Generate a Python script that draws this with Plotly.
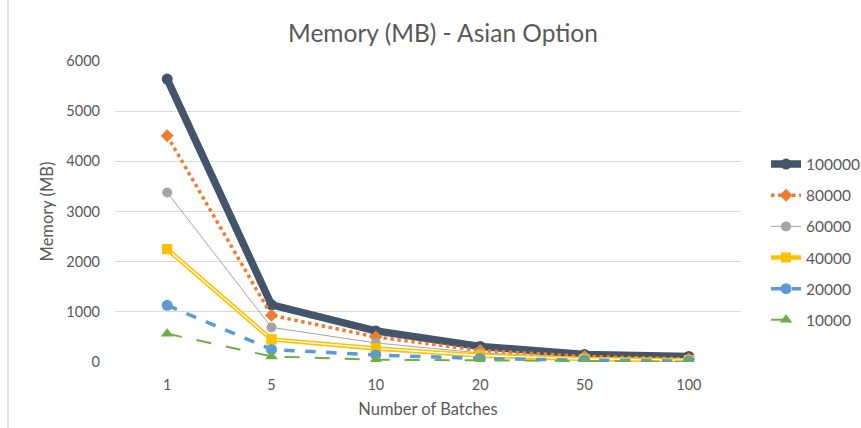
import plotly.graph_objects as go

# Number of batches (categorical x axis)
batches = ["1", "5", "10", "20", "50", "100"]

# Memory usage (MB) per number of paths
mem_100000 = [5640, 1140, 620, 310, 150, 110]
mem_80000 = [4510, 930, 500, 230, 110, 60]
mem_60000 = [3380, 690, 380, 180, 90, 50]
mem_40000 = [2250, 450, 270, 130, 60, 35]
mem_20000 = [1130, 250, 140, 70, 35, 20]
mem_10000 = [565, 110, 45, 30, 15, 8]

y_ticks = [0, 1000, 2000, 3000, 4000, 5000, 6000]

FONT = "Lato"
TXT = "#595959"

fig = go.Figure()

fig.add_trace(go.Scatter(
    x=batches, y=mem_100000, name="100000", mode="lines+markers",
    line=dict(color="#44546A", width=7.5),
    marker=dict(symbol="circle", size=11, color="#44546A"),
    legendgroup="a",
))
fig.add_trace(go.Scatter(
    x=batches, y=mem_80000, name="80000", mode="lines+markers",
    line=dict(color="#ED7D31", width=3.5, dash="dot"),
    marker=dict(symbol="diamond", size=10, color="#ED7D31"),
    legendgroup="b",
))
fig.add_trace(go.Scatter(
    x=batches, y=mem_60000, name="60000", mode="lines+markers",
    line=dict(color="#A5A5A5", width=1),
    marker=dict(symbol="circle", size=10, color="#A5A5A5"),
    legendgroup="c",
))
# double line: yellow outer stroke with a thin white core
fig.add_trace(go.Scatter(
    x=batches, y=mem_40000, name="40000", mode="lines+markers",
    line=dict(color="#FFC000", width=4.5),
    marker=dict(symbol="square", size=10, color="#FFC000"),
    legendgroup="d",
))
fig.add_trace(go.Scatter(
    x=batches, y=mem_40000, mode="lines", showlegend=False,
    line=dict(color="white", width=1.3), hoverinfo="skip", legendgroup="d",
))
fig.add_trace(go.Scatter(
    x=batches, y=mem_40000, mode="markers", showlegend=False,
    marker=dict(symbol="square", size=10, color="#FFC000"), legendgroup="d",
))
fig.add_trace(go.Scatter(
    x=batches, y=mem_20000, name="20000", mode="lines+markers",
    line=dict(color="#5B9BD5", width=3.5, dash="dash"),
    marker=dict(symbol="circle", size=11, color="#5B9BD5"),
    legendgroup="e",
))
fig.add_trace(go.Scatter(
    x=batches, y=mem_10000, name="10000", mode="lines+markers",
    line=dict(color="#70AD47", width=2, dash="longdash"),
    marker=dict(symbol="triangle-up", size=11, color="#70AD47"),
    legendgroup="f",
))

fig.update_layout(
    width=861, height=428,
    margin=dict(l=115, r=120, t=61, b=66, autoexpand=False),
    paper_bgcolor="white", plot_bgcolor="white",
    font=dict(family=FONT, color=TXT, size=14),
    title=dict(text="Memory (MB) - Asian Option", x=443 / 861, xanchor="center",
               y=1 - 33 / 428, yanchor="middle",
               font=dict(size=24.5, color=TXT, family=FONT)),
    xaxis=dict(
        type="category", range=[-0.5, 5.5], showgrid=False, zeroline=False,
        showline=False, ticks="", tickfont=dict(size=14.5, color=TXT),
        ticklabelstandoff=12,
        title=dict(text="Number of Batches", font=dict(size=16.5, color=TXT), standoff=11),
    ),
    yaxis=dict(
        range=[0, 6000], tickvals=y_ticks, showgrid=True, gridcolor="#D9D9D9",
        gridwidth=1, zeroline=False, showline=False, ticks="",
        tickfont=dict(size=14.5, color=TXT), ticklabelstandoff=14,
        title=dict(text="Memory (MB)", font=dict(size=16.5, color=TXT), standoff=8),
    ),
    legend=dict(
        x=1.04, xanchor="left", y=(362 - 242) / 301, yanchor="middle",
        font=dict(size=15.5, color=TXT), tracegroupgap=8,
        bgcolor="rgba(0,0,0,0)",
    ),
    showlegend=True,
)

# chart frame edge on the left
fig.add_shape(type="line", xref="paper", yref="paper",
              x0=-107 / 626, x1=-107 / 626, y0=-66 / 301, y1=1 + 61 / 301,
              line=dict(color="#D9D9D9", width=1.5))

fig.write_html("out.html")
